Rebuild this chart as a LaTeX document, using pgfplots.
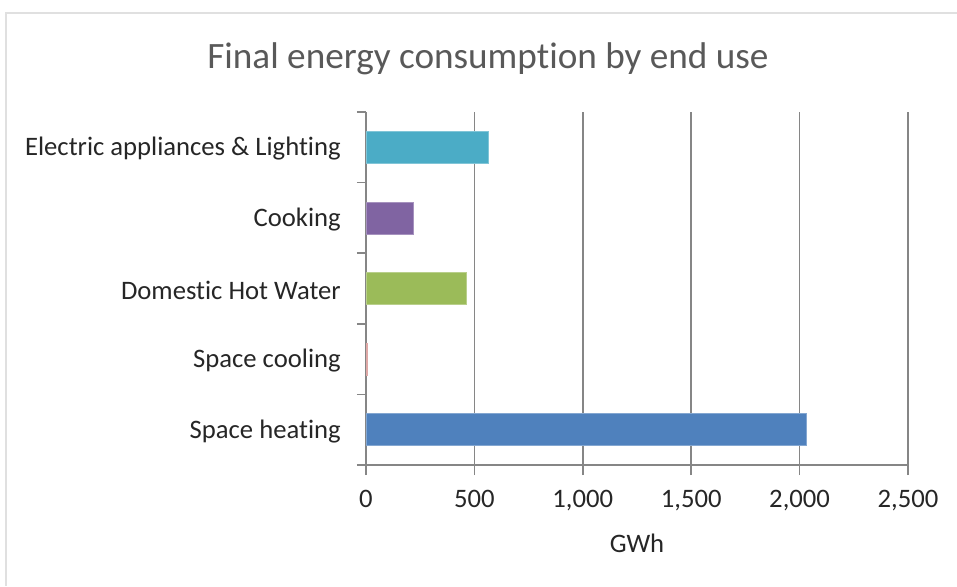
\documentclass[border=0pt]{standalone}
\usepackage{pgfplots}
\pgfplotsset{compat=1.18}
\usepackage{fontspec}
\setmainfont{Carlito}[Ligatures=NoCommon]
\definecolor{cElec}{HTML}{4BACC6}
\definecolor{cCook}{HTML}{8064A2}
\definecolor{cDHW}{HTML}{9BBB59}
\definecolor{cCool}{HTML}{C0504D}
\definecolor{cHeat}{HTML}{4F81BD}
\definecolor{gridc}{HTML}{868686}
\definecolor{titlec}{HTML}{595959}
\definecolor{textc}{HTML}{262626}
\begin{document}
\begin{tikzpicture}
\useasboundingbox (0pt,0pt) rectangle (717.75pt,439.5pt);
\draw[black!12, line width=1.2pt] (4.5pt,0pt) -- (4.5pt,429.75pt) -- (717.75pt,429.75pt);
\node[font=\fontsize{27.9}{31}\selectfont, text=titlec] at (366pt,395.25pt) {Final energy consumption by end use};
\begin{axis}[
  at={(274.5pt,90.75pt)}, anchor=south west,
  scale only axis,
  width=406.5pt, height=264.75pt,
  xmin=0, xmax=2500, ymin=-0.5, ymax=4.5,
  xbar, bar width=24pt, bar shift=0pt,
  axis x line*=bottom, axis y line*=left,
  axis line style={draw=gridc, line width=1.1pt, -},
  xtick={0,500,...,2500},
  xmajorgrids, major grid style={draw=gridc, line width=1.1pt},
  x tick style={draw=gridc, line width=1.1pt},
  major tick length=7.5pt, tick align=outside,
  ytick={0,1,2,3,4},
  yticklabels={Space heating, Space cooling, Domestic Hot Water, Cooking, Electric appliances \& Lighting},
  y tick style={draw=none},
  minor ytick={-0.5,0.5,...,4.5},
  minor y tick style={draw=gridc, line width=1.1pt},
  minor tick length=6.75pt,
  /pgf/number format/assume math mode=true,
  /pgf/number format/1000 sep={,},
  scaled x ticks=false,
  tick label style={font=\fontsize{20}{24}\selectfont, text=textc},
  yticklabel style={anchor=east, inner sep=0pt, xshift=-11.25pt, yshift=-1.2pt},
  xticklabel style={anchor=base, inner sep=0pt, yshift=-24pt},
  xlabel={GWh},
  xlabel style={font=\fontsize{20}{24}\selectfont, text=textc, anchor=base, at={(axis description cs:0.5,0)}, yshift=-65.25pt, inner sep=0pt},
  clip=false,
]
\addplot[fill=cHeat, draw=cHeat!70!white, line width=0.6pt] coordinates {(2032,0)};
\addplot[fill=cCool, draw=cCool!50!white, line width=0.6pt] coordinates {(5,1)};
\addplot[fill=cDHW, draw=cDHW!70!white, line width=0.6pt] coordinates {(461,2)};
\addplot[fill=cCook, draw=cCook!70!white, line width=0.6pt] coordinates {(217,3)};
\addplot[fill=cElec, draw=cElec!70!white, line width=0.6pt] coordinates {(564,4)};
\end{axis}
\end{tikzpicture}
\end{document}
